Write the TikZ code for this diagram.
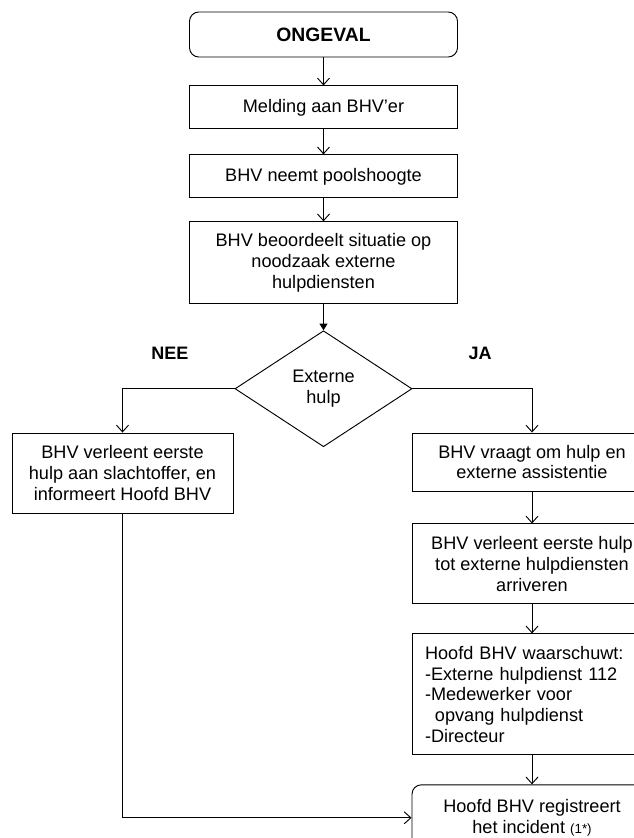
\documentclass[tikz,border=0pt]{standalone}
\usepackage{fontspec}
\setmainfont{Liberation Sans}
\usetikzlibrary{positioning, shapes.geometric, arrows.meta}

\begin{document}
\begin{tikzpicture}[
		x=0.75pt, y=-0.75pt
		,every node/.append style={draw, line width=0.7pt, align=center, font=\fontsize{13.6pt}{15.5pt}\selectfont}
		,stap/.style={rectangle, minimum width=201pt, minimum height=32.25pt}
		,start/.style={stap, rounded corners=7pt, minimum height=33.75pt, font=\fontsize{14.5pt}{17pt}\selectfont\bfseries}
		,keuze/.style={diamond, aspect=1.53, minimum width=132.75pt, minimum height=87pt, inner sep=0pt}
		,zij/.style={rectangle, minimum width=180pt}
		,kop/.style={draw=none, font=\fontsize{13.5pt}{16pt}\selectfont\bfseries}
		,pijl/.style={line width=0.7pt, -{Straight Barb[length=5pt, width=9pt]}}
		,vol/.style={line width=0.7pt, -{Triangle[length=5pt, width=6pt]}}
	]
		\path[use as bounding box, clip] (0,0) rectangle (634,838);

		% hoofdlijn
		\node [start] (A) at (323.5,34.5) {ONGEVAL};
		\node [stap, below=21pt of A] (B) {Melding aan BHV'er};
		\node [stap, below=18.75pt of B] (C) {BHV neemt poolshoogte};
		\node [stap, minimum height=61.5pt, below=17.25pt of C] (D) {BHV beoordeelt situatie op\\noodzaak externe\\hulpdiensten};
		\node [keuze, below=19.5pt of D] (E) {Externe\\hulp};

		\node [kop] (nee) at (170,353) {NEE};
		\node [kop] (ja) at (480,353) {JA};

		% tak NEE
		\node [rectangle, minimum width=165.75pt, minimum height=60pt] (L) at (122.5,473) {BHV verleent eerste\\hulp aan slachtoffer, en\\informeert Hoofd BHV};

		% tak JA
		\node [zij, minimum height=43.5pt] (R1) at (532,462) {BHV vraagt om hulp en\\externe assistentie};
		\node [zij, minimum height=60pt, below=24pt of R1] (R2) {BHV verleent eerste hulp\\tot externe hulpdiensten\\arriveren};
		\node [zij, minimum height=90.75pt, text width=160.5pt, inner xsep=9.75pt, align=left, below=21.75pt of R2] (R3) {Hoofd BHV waarschuwt:\\-Externe hulpdienst 112\\-Medewerker voor\\\hspace*{0.55em}opvang hulpdienst\\-Directeur};
		\node [zij, rounded corners=7pt, minimum height=49.5pt, below=21.75pt of R3] (F) {Hoofd BHV registreert\\het incident {\fontsize{10pt}{12pt}\selectfont(1*)}};

		\draw [pijl] (A) -- (B);
		\draw [pijl] (B) -- (C);
		\draw [pijl] (C) -- (D);
		\draw [vol] (D) -- (E);
		\draw [pijl] (E.west) -| (L.north);
		\draw [pijl] (E.east) -| (R1.north);
		\draw [pijl] (R1) -- (R2);
		\draw [pijl] (R2) -- (R3);
		\draw [pijl] (R3) -- (F);
		\draw [pijl] (L.south) |- (F.west);
	\end{tikzpicture}
\end{document}
